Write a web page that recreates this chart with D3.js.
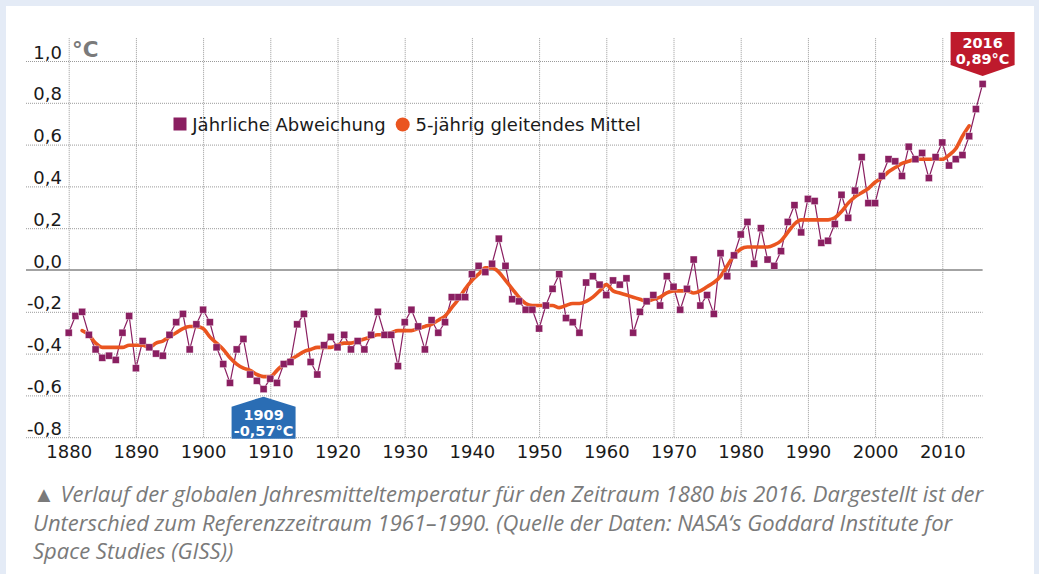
<!DOCTYPE html>
<html lang="de">
<head>
<meta charset="utf-8">
<script src="https://cdn.jsdelivr.net/npm/d3@7"></script>
<style>
  html, body { margin: 0; padding: 0; background: #e4ebf6; }
  svg { display: block; }
</style>
</head>
<body>
<svg id="chart" width="1039" height="574"></svg>
<script>
// Globale Jahresmitteltemperatur, Abweichung zum Mittel 1961–1990 (°C)
const years = d3.range(1880, 2017);

const annualAnomaly = [
  -0.30, -0.22, -0.20, -0.31, -0.38, -0.42, -0.41, -0.43, -0.30, -0.22, // 1880–1889
  -0.47, -0.34, -0.37, -0.40, -0.41, -0.31, -0.25, -0.21, -0.38, -0.26, // 1890–1899
  -0.19, -0.25, -0.37, -0.45, -0.54, -0.38, -0.33, -0.50, -0.53, -0.57, // 1900–1909
  -0.52, -0.54, -0.45, -0.44, -0.26, -0.21, -0.44, -0.50, -0.36, -0.32, // 1910–1919
  -0.37, -0.31, -0.38, -0.34, -0.38, -0.31, -0.20, -0.31, -0.31, -0.46, // 1920–1929
  -0.25, -0.19, -0.27, -0.38, -0.24, -0.30, -0.25, -0.13, -0.13, -0.13, // 1930–1939
  -0.02,  0.02, -0.01,  0.03,  0.15,  0.02, -0.14, -0.15, -0.19, -0.19, // 1940–1949
  -0.28, -0.17, -0.09, -0.02, -0.23, -0.25, -0.30, -0.06, -0.03, -0.07, // 1950–1959
  -0.12, -0.05, -0.07, -0.04, -0.30, -0.20, -0.15, -0.12, -0.17, -0.03, // 1960–1969
  -0.08, -0.19, -0.09,  0.05, -0.17, -0.12, -0.21,  0.08, -0.03,  0.07, // 1970–1979
   0.17,  0.23,  0.03,  0.20,  0.05,  0.02,  0.09,  0.23,  0.31,  0.18, // 1980–1989
   0.34,  0.33,  0.13,  0.14,  0.22,  0.36,  0.25,  0.38,  0.54,  0.32, // 1990–1999
   0.32,  0.45,  0.53,  0.52,  0.45,  0.59,  0.53,  0.56,  0.44,  0.54, // 2000–2009
   0.61,  0.50,  0.53,  0.55,  0.64,  0.77,  0.89                        // 2010–2016
];

// 5-jährig gleitendes Mittel, 1882–2014
const meanYears = d3.range(1882, 2015);
const movingMean = [
  -0.29, -0.31, -0.35, -0.37, -0.37, -0.37, -0.37, -0.36,               // 1882–1889
  -0.36, -0.36, -0.37, -0.35, -0.34, -0.32, -0.30, -0.28, -0.27, -0.27, // 1890–1899
  -0.28, -0.32, -0.35, -0.38, -0.42, -0.45, -0.47, -0.48, -0.50, -0.51, // 1900–1909
  -0.51, -0.48, -0.45, -0.43, -0.41, -0.39, -0.38, -0.37, -0.37, -0.37, // 1910–1919
  -0.36, -0.35, -0.35, -0.34, -0.33, -0.32, -0.31, -0.31, -0.30, -0.29, // 1920–1929
  -0.29, -0.29, -0.28, -0.27, -0.26, -0.24, -0.22, -0.18, -0.14, -0.09, // 1930–1939
  -0.05, -0.02,  0.01,  0.01, -0.01, -0.05, -0.09, -0.13, -0.16, -0.17, // 1940–1949
  -0.17, -0.17, -0.17, -0.18, -0.17, -0.16, -0.16, -0.15, -0.13, -0.10, // 1950–1959
  -0.07, -0.10, -0.11, -0.12, -0.13, -0.14, -0.15, -0.14, -0.13, -0.11, // 1960–1969
  -0.10, -0.10, -0.10, -0.11, -0.10, -0.08, -0.06, -0.03,  0.02,  0.07, // 1970–1979
   0.10,  0.11,  0.11,  0.11,  0.11,  0.12,  0.14,  0.18,  0.22,  0.24, // 1980–1989
   0.24,  0.24,  0.24,  0.24,  0.25,  0.28,  0.32,  0.35,  0.37,  0.39, // 1990–1999
   0.42,  0.44,  0.47,  0.49,  0.51,  0.52,  0.53,  0.53,  0.53,  0.53, // 2000–2009
   0.53,  0.55,  0.58,  0.64,  0.69                                      // 2010–2014
];

const xTickYears = d3.range(1880, 2011, 10);
const yTickValues = [1.0, 0.8, 0.6, 0.4, 0.2, 0.0, -0.2, -0.4, -0.6, -0.8];
const yTickLabels = ["1,0", "0,8", "0,6", "0,4", "0,2", "0,0", "-0,2", "-0,4", "-0,6", "-0,8"];

const legendLabels = ["Jährliche Abweichung", "5-jährig gleitendes Mittel"];
const highlightYears = [1909, 2016];

const captionLines = [
  "▲ Verlauf der globalen Jahresmitteltemperatur für den Zeitraum 1880 bis 2016. Dargestellt ist der",
  "Unterschied zum Referenzzeitraum 1961–1990. (Quelle der Daten: NASA‘s Goddard Institute for",
  "Space Studies (GISS))"
];

// ---- styling ----
const C = {
  page: "#e4ebf6",
  panel: "#ffffff",
  grid: "#9a9a9a",
  zero: "#a3a3a3",
  text: "#1a1a1a",
  unit: "#7a7a7a",
  annual: "#8a1f61",
  mean: "#ea5520",
  low: "#2a6db4",
  high: "#be1a2c",
  caption: "#7a7a7a"
};
const FONT = "'DejaVu Sans', Verdana, sans-serif";

const svg = d3.select("#chart");

svg.append("rect").attr("x", 0).attr("y", 0).attr("width", 1039).attr("height", 574).attr("fill", C.page);
svg.append("rect").attr("x", 6).attr("y", 6).attr("width", 1028).attr("height", 568).attr("fill", C.panel);

// scales
const x = d3.scaleLinear().domain([1880, 2010]).range([68.7, 942.3]);
const y = d3.scaleLinear().domain([0, 1]).range([270, 61]);

const gridLeft = 26;
const gridRight = x(2016);
const gridTop = 38;
const gridBottom = y(-0.8);

// vertical grid (decades)
svg.append("g")
  .attr("transform", `translate(0,${gridBottom})`)
  .call(d3.axisBottom(x).tickValues(xTickYears).tickSize(-(gridBottom - gridTop)).tickFormat(""))
  .call(g => g.select(".domain").remove())
  .call(g => g.selectAll(".tick line")
    .attr("stroke", C.grid).attr("stroke-width", 1).attr("stroke-dasharray", "1,1"));

// horizontal grid
svg.append("g")
  .attr("transform", `translate(${gridLeft},0)`)
  .call(d3.axisLeft(y).tickValues(yTickValues.filter(v => v !== 0)).tickSize(-(gridRight - gridLeft)).tickFormat(""))
  .call(g => g.select(".domain").remove())
  .call(g => g.selectAll(".tick line")
    .attr("stroke", C.grid).attr("stroke-width", 1).attr("stroke-dasharray", "1,1"));

// zero line
svg.append("line")
  .attr("x1", gridLeft).attr("x2", gridRight)
  .attr("y1", y(0)).attr("y2", y(0))
  .attr("stroke", C.zero).attr("stroke-width", 2);

// y labels, sitting just above their gridline
svg.append("g")
  .attr("transform", "translate(62,0)")
  .call(d3.axisLeft(y).tickValues(yTickValues).tickSize(0).tickPadding(0)
    .tickFormat((d, i) => yTickLabels[i]))
  .call(g => g.select(".domain").remove())
  .call(g => g.selectAll("text")
    .attr("dy", -3).attr("dominant-baseline", "auto")
    .attr("font-family", FONT).attr("font-size", 18).attr("fill", C.text));

// x labels
svg.append("g")
  .attr("transform", `translate(0,440)`)
  .call(d3.axisBottom(x).tickValues(xTickYears).tickSize(0).tickPadding(0).tickFormat(d3.format("d")))
  .call(g => g.select(".domain").remove())
  .call(g => g.selectAll("text")
    .attr("y", 18.3).attr("dy", 0)
    .attr("font-family", FONT).attr("font-size", 18).attr("fill", C.text));

// unit
svg.append("text")
  .attr("x", 72).attr("y", 56.5)
  .attr("font-family", FONT).attr("font-weight", "bold").attr("font-size", 21.5)
  .attr("fill", C.unit).text("°C");

// ---- series ----
const annual = years.map((yr, i) => ({ year: yr, value: annualAnomaly[i] }));
const mean = meanYears.map((yr, i) => ({ year: yr, value: movingMean[i] }));

const line = d3.line().x(d => x(d.year)).y(d => y(d.value));
const smooth = d3.line().x(d => x(d.year)).y(d => y(d.value)).curve(d3.curveMonotoneX);

svg.append("path").datum(annual)
  .attr("d", line).attr("fill", "none")
  .attr("stroke", C.annual).attr("stroke-width", 1.2).attr("stroke-linejoin", "round");

svg.append("path").datum(mean)
  .attr("d", smooth).attr("fill", "none")
  .attr("stroke", C.mean).attr("stroke-width", 3.6)
  .attr("stroke-linejoin", "round").attr("stroke-linecap", "round");

const m = 7;
svg.append("g").selectAll("rect").data(annual).join("rect")
  .attr("x", d => x(d.year) - m / 2).attr("y", d => y(d.value) - m / 2)
  .attr("width", m).attr("height", m)
  .attr("fill", C.annual).attr("stroke", "#ffffff").attr("stroke-opacity", 0.55).attr("stroke-width", 0.6);

// ---- legend ----
const legend = svg.append("g").attr("font-family", FONT).attr("font-size", 18).attr("fill", C.text);
legend.append("rect").attr("x", 173.5).attr("y", 117.5).attr("width", 13).attr("height", 13).attr("fill", C.annual);
legend.append("text").attr("x", 192.3).attr("y", 131).text(legendLabels[0]);
legend.append("circle").attr("cx", 402.7).attr("cy", 124.5).attr("r", 7).attr("fill", C.mean);
legend.append("text").attr("x", 415.5).attr("y", 131).text(legendLabels[1]);

// ---- extreme value callouts ----
const fmtVal = v => d3.format(".2f")(v).replace(".", ",").replace("−", "-") + "°C";
const valueOf = yr => annualAnomaly[years.indexOf(yr)];

function callout(yr, below, color) {
  const cx = x(yr), py = y(valueOf(yr));
  const w = 64, half = w / 2;
  const g = svg.append("g");
  let pts, t1, t2;
  if (below) {
    const tip = py + 7.5;
    pts = [[cx, tip], [cx + half, tip + 10], [cx + half, tip + 42], [cx - half, tip + 42], [cx - half, tip + 10]];
    t1 = tip + 23.5; t2 = tip + 39.5;
  } else {
    const tip = py - 8;
    pts = [[cx, tip], [cx - half, tip - 11], [cx - half, tip - 44], [cx + half, tip - 44], [cx + half, tip - 11]];
    t1 = tip - 27.5; t2 = tip - 12;
  }
  g.append("path").attr("d", d3.line()(pts) + "Z").attr("fill", color);
  g.append("text").attr("x", cx).attr("y", t1).attr("text-anchor", "middle")
    .attr("font-family", FONT).attr("font-weight", "bold").attr("font-size", 14.5).attr("fill", "#fff")
    .text(String(yr));
  g.append("text").attr("x", cx).attr("y", t2).attr("text-anchor", "middle")
    .attr("font-family", FONT).attr("font-weight", "bold").attr("font-size", 14.5).attr("fill", "#fff")
    .text(fmtVal(valueOf(yr)));
}
callout(highlightYears[0], true, C.low);
callout(highlightYears[1], false, C.high);

// ---- caption ----
svg.append("g").selectAll("text").data(captionLines).join("text")
  .attr("x", 33).attr("y", (d, i) => 502 + i * 28.5)
  .attr("font-family", "'Open Sans', sans-serif").attr("font-style", "italic")
  .attr("font-size", 22).attr("fill", C.caption)
  .text(d => d);
</script>
</body>
</html>
